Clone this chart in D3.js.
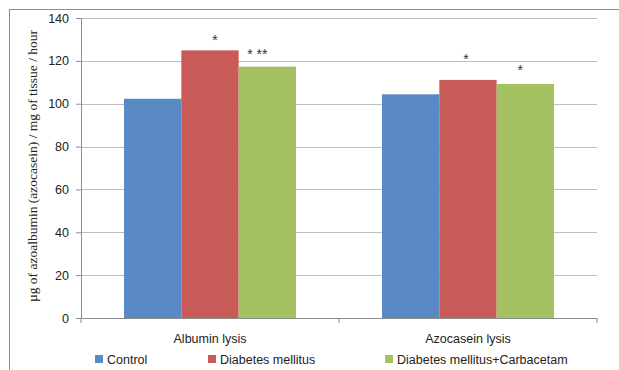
<!DOCTYPE html>
<meta charset="utf-8">
<style>
body { margin: 0; background: #fff; }
.tick text { font-family: "Liberation Sans", Arial, sans-serif; font-size: 12.5px; fill: #222; }
</style>
<svg width="619" height="370"></svg>
<script src="https://cdn.jsdelivr.net/npm/d3@7/dist/d3.min.js"></script>
<script>

var categories = ['Albumin lysis', 'Azocasein lysis']
var series = ['Control', 'Diabetes mellitus', 'Diabetes mellitus+Carbacetam']
var control = [102.3, 104.4]
var diabetes = [124.9, 111.1]
var carbacetam = [117.3, 109.2]
var marks = [['', '*', '* **'], ['', '*', '*']]
var yTicks = [0, 20, 40, 60, 80, 100, 120, 140]
var colors = ['#5a8ac6', '#c85a57', '#a5c263']

var values = [control, diabetes, carbacetam]
// label nudges (dx, dy above bar top) as placed in the original
var markShift = [[[0, 0], [5, 12], [-10, 15]], [[0, 0], [-2, 23], [-5, 16]]]

var margin = {top: 18, left: 81, right: 22, bottom: 52},
    width = 619 - margin.left - margin.right,
    height = 370 - margin.top - margin.bottom

var svg = d3.select('svg')

// outer chart border
svg.append('rect')
    .attr('x', 9.5).attr('y', 9.5)
    .attr('width', 640).attr('height', 400)
    .attr('fill', 'none').attr('stroke', '#8c8c8c')

var g = svg.append('g')
    .attr('transform', 'translate(' + margin.left + ',' + margin.top + ')')

var x0 = d3.scaleBand().domain(categories).range([0, width]).paddingInner(0).paddingOuter(0)
var x1 = d3.scaleBand().domain(series).range([x0.bandwidth() / 6, x0.bandwidth() * 5 / 6])
var y = d3.scaleLinear().domain([0, 140]).range([height, 0])

// gridlines
g.selectAll('.grid')
    .data(yTicks.slice(1))
    .enter().append('line')
    .attr('x1', 0).attr('x2', width)
    .attr('y1', d => Math.round(y(d)) + 0.5).attr('y2', d => Math.round(y(d)) + 0.5)
    .attr('stroke', '#bdbdbd')

var yAxis = g.append('g')
    .call(d3.axisLeft(y).tickValues(yTicks).tickSize(5).tickPadding(7))
yAxis.select('.domain').attr('stroke', '#8c8c8c')
yAxis.selectAll('.tick line').attr('stroke', '#8c8c8c')

var xAxis = g.append('g')
    .attr('transform', 'translate(0,' + height + ')')
    .call(d3.axisBottom(x0).tickSize(0).tickPadding(16))
xAxis.select('.domain').attr('stroke', '#8c8c8c')

// category boundary ticks
g.selectAll('.ctick')
    .data([0, 1, 2])
    .enter().append('line')
    .attr('x1', d => d * x0.bandwidth()).attr('x2', d => d * x0.bandwidth())
    .attr('y1', height).attr('y2', height + 5)
    .attr('stroke', '#8c8c8c')

var groups = g.selectAll('.grp')
    .data(categories)
    .enter().append('g')
    .attr('transform', d => 'translate(' + x0(d) + ',0)')

groups.selectAll('rect')
    .data((c, ci) => series.map((s, si) => ({s: s, v: values[si][ci], si: si})))
    .enter().append('rect')
    .attr('x', d => x1(d.s))
    .attr('y', d => y(d.v))
    .attr('width', x1.bandwidth())
    .attr('height', d => height - y(d.v))
    .attr('fill', d => colors[d.si])

groups.selectAll('.star')
    .data((c, ci) => series.map((s, si) => ({s: s, v: values[si][ci], m: marks[ci][si], sh: markShift[ci][si]})))
    .enter().append('text')
    .attr('x', d => x1(d.s) + x1.bandwidth() / 2 + d.sh[0])
    .attr('y', d => y(d.v) - d.sh[1] + 7)
    .attr('text-anchor', 'middle')
    .style('font-family', '"Liberation Sans", Arial, sans-serif')
    .style('font-size', '14px')
    .attr('fill', '#333')
    .text(d => d.m)

// y axis title
svg.append('text')
    .attr('transform', 'translate(37,' + (margin.top + height / 2 - 2) + ') rotate(-90)')
    .attr('text-anchor', 'middle')
    .style('font-family', '"Liberation Serif", "Times New Roman", serif')
    .style('font-size', '13.5px')
    .attr('fill', '#222')
    .text('µg of azoalbumin (azocasein) / mg of tissue / hour')

// legend
var legX = [95, 208, 385]
var legend = svg.selectAll('.leg')
    .data(series)
    .enter().append('g')
    .attr('transform', (d, i) => 'translate(' + legX[i] + ',355)')
legend.append('rect')
    .attr('width', 8).attr('height', 8)
    .attr('fill', (d, i) => colors[i])
legend.append('text')
    .attr('x', 12).attr('y', 8.5)
    .style('font-family', '"Liberation Sans", Arial, sans-serif')
    .style('font-size', '12.5px')
    .attr('fill', '#222')
    .text(d => d)

</script>
